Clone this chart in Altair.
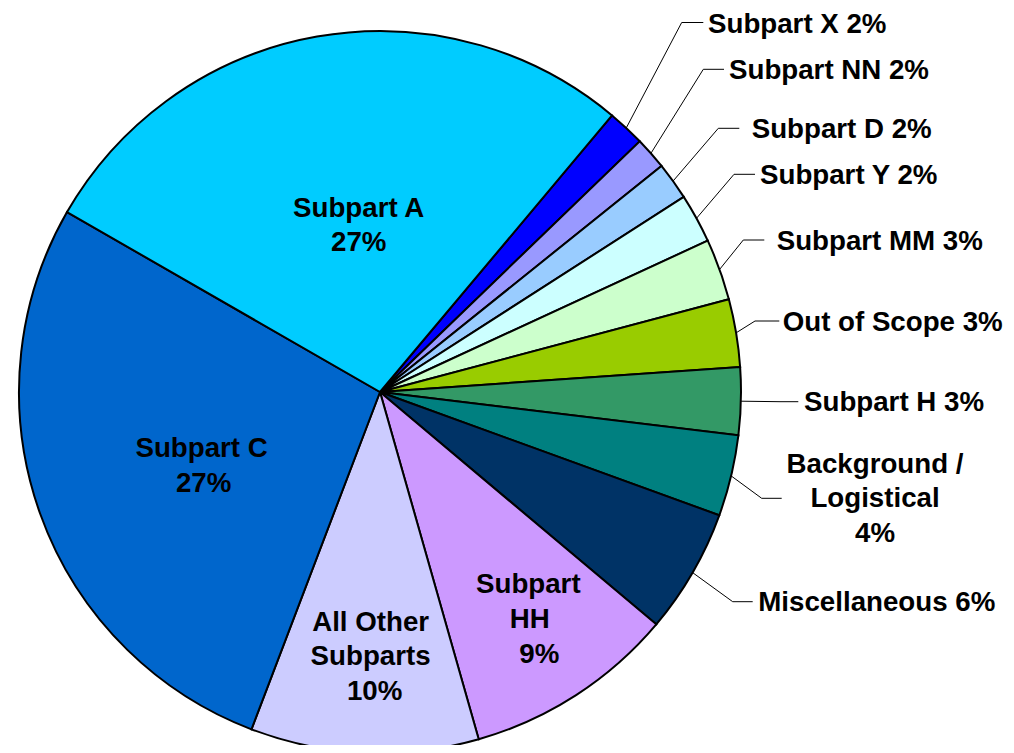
import math
import altair as alt
import pandas as pd

# ---------------- data ----------------
categories = ["Subpart X", "Subpart NN", "Subpart D", "Subpart Y", "Subpart MM",
              "Out of Scope", "Subpart H", "Background / Logistical", "Miscellaneous",
              "Subpart HH", "All Other Subparts", "Subpart C", "Subpart A"]
shares = [1.67, 1.45, 1.68, 2.20, 2.75, 3.03, 3.02, 3.63, 5.58, 9.46, 10.20, 27.50, 27.80]
label_texts = ["Subpart X 2%", "Subpart NN 2%", "Subpart D 2%", "Subpart Y 2%",
               "Subpart MM 3%", "Out of Scope 3%", "Subpart H 3%",
               "Background /\nLogistical\n4%", "Miscellaneous 6%",
               "Subpart\nHH\n9%", "All Other\nSubparts\n10%",
               "Subpart C\n27%", "Subpart A\n27%"]
colors = ["#0000FF", "#9999FF", "#99CCFF", "#CCFFFF", "#CCFFCC", "#99CC00", "#339966",
          "#008080", "#003366", "#CC99FF", "#CCCCFF", "#0066CC", "#00CCFF"]

# ---------------- layout (styles / positions, not data) ----------------
W, H = 998, 737
CX, CY, R = 372, 384, 361
START_DEG = 40.0
FONT = "Liberation Sans"
FS = 27.7
LH = 34.7

# outside labels: category -> (elbow x, elbow y, leader end x, text x, text baseline y, align)
outside = {
    "Subpart X": (673.7, 14.5, 695.3, 700.0, 25.0, "left"),
    "Subpart NN": (695.3, 61.3, 716.0, 721.0, 71.0, "left"),
    "Subpart D": (710.3, 120.3, 731.3, 743.7, 129.7, "left"),
    "Subpart Y": (726.0, 166.3, 747.0, 752.0, 176.3, "left"),
    "Subpart MM": (735.3, 232.0, 756.3, 768.7, 242.0, "left"),
    "Out of Scope": (747.0, 313.0, 771.3, 774.7, 322.7, "left"),
    "Subpart H": (772.0, 393.7, 790.3, 796.0, 402.7, "left"),
    "Background / Logistical": (753.7, 490.3, 773.7, 867.0, 464.7, "center"),
    "Miscellaneous": (724.7, 593.7, 744.7, 750.3, 602.7, "left"),
}
# inside labels: category -> (text center x, first baseline y)
inside = {
    "Subpart HH": (520.3, 585.3),
    "All Other Subparts": (362.6, 622.7),
    "Subpart C": (193.6, 449.3),
    "Subpart A": (350.7, 208.7),
}
# per-line horizontal nudges for centred labels: (category, line index) -> dx
line_dx = {("Subpart HH", 1): 1.5, ("Subpart HH", 2): 11.0,
           ("All Other Subparts", 2): 4.0, ("Subpart C", 1): 2.0}

# ---------------- tables ----------------
pie_df = pd.DataFrame({"name": categories, "share": shares,
                       "idx": list(range(len(categories)))})

total = sum(shares)
cum = 0.0
mid_deg = {}
for c, s in zip(categories, shares):
    mid_deg[c] = START_DEG + 360.0 * (cum + s / 2.0) / total
    cum += s

line_rows = []
for c, (ex_, ey_, end_x, tx, ty, al) in outside.items():
    a = math.radians(mid_deg[c])
    line_rows.append({"name": c, "pt": 0, "x": CX + R * math.sin(a), "y": CY - R * math.cos(a)})
    line_rows.append({"name": c, "pt": 1, "x": ex_, "y": ey_})
    line_rows.append({"name": c, "pt": 2, "x": end_x, "y": ey_})
line_df = pd.DataFrame(line_rows)

lab = dict(zip(categories, label_texts))
left_df = pd.DataFrame([{"name": c, "x": v[3], "y": v[4], "text": lab[c]}
                        for c, v in outside.items() if v[5] == "left"])

anchors = [(c, v[3], v[4]) for c, v in outside.items() if v[5] == "center"]
anchors += [(c, v[0], v[1]) for c, v in inside.items()]
center_rows = []
for c, x0, y0 in anchors:
    for i, line in enumerate(lab[c].split("\n")):
        center_rows.append({"name": c, "x": x0 + line_dx.get((c, i), 0.0),
                            "y": y0 + i * LH, "text": line})
center_df = pd.DataFrame(center_rows)

xs = alt.Scale(domain=[0, W], range=[0, W], nice=False, zero=False)
ys = alt.Scale(domain=[0, H], range=[0, H], nice=False, zero=False)

pie = alt.Chart(pie_df).mark_arc(outerRadius=R, stroke="black", strokeWidth=2).encode(
    theta=alt.Theta("share:Q", stack=True,
                    scale=alt.Scale(range=[math.radians(START_DEG),
                                           math.radians(START_DEG) + 2 * math.pi])),
    order=alt.Order("idx:Q", sort="ascending"),
    color=alt.Color("name:N", scale=alt.Scale(domain=categories, range=colors), legend=None),
    x=alt.value(CX),
    y=alt.value(CY),
)

leaders = alt.Chart(line_df).mark_line(color="black", strokeWidth=1).encode(
    x=alt.X("x:Q", scale=xs, axis=None),
    y=alt.Y("y:Q", scale=ys, axis=None),
    detail="name:N",
    order=alt.Order("pt:Q"),
)

left_text = alt.Chart(left_df).mark_text(
    align="left", baseline="alphabetic", font=FONT, fontWeight="bold", fontSize=FS,
    color="black", lineBreak="\n", lineHeight=LH,
).encode(
    x=alt.X("x:Q", scale=xs, axis=None),
    y=alt.Y("y:Q", scale=ys, axis=None),
    text="text:N",
)

center_text = alt.Chart(center_df).mark_text(
    align="center", baseline="alphabetic", font=FONT, fontWeight="bold", fontSize=FS,
    color="black",
).encode(
    x=alt.X("x:Q", scale=xs, axis=None),
    y=alt.Y("y:Q", scale=ys, axis=None),
    text="text:N",
)

chart = alt.layer(pie, leaders, left_text, center_text).properties(
    width=W, height=H, padding=0, autosize="none"
).configure_view(stroke=None).resolve_scale(theta="independent")

chart.save("out.html", embed_options={"renderer": "svg", "actions": False})
